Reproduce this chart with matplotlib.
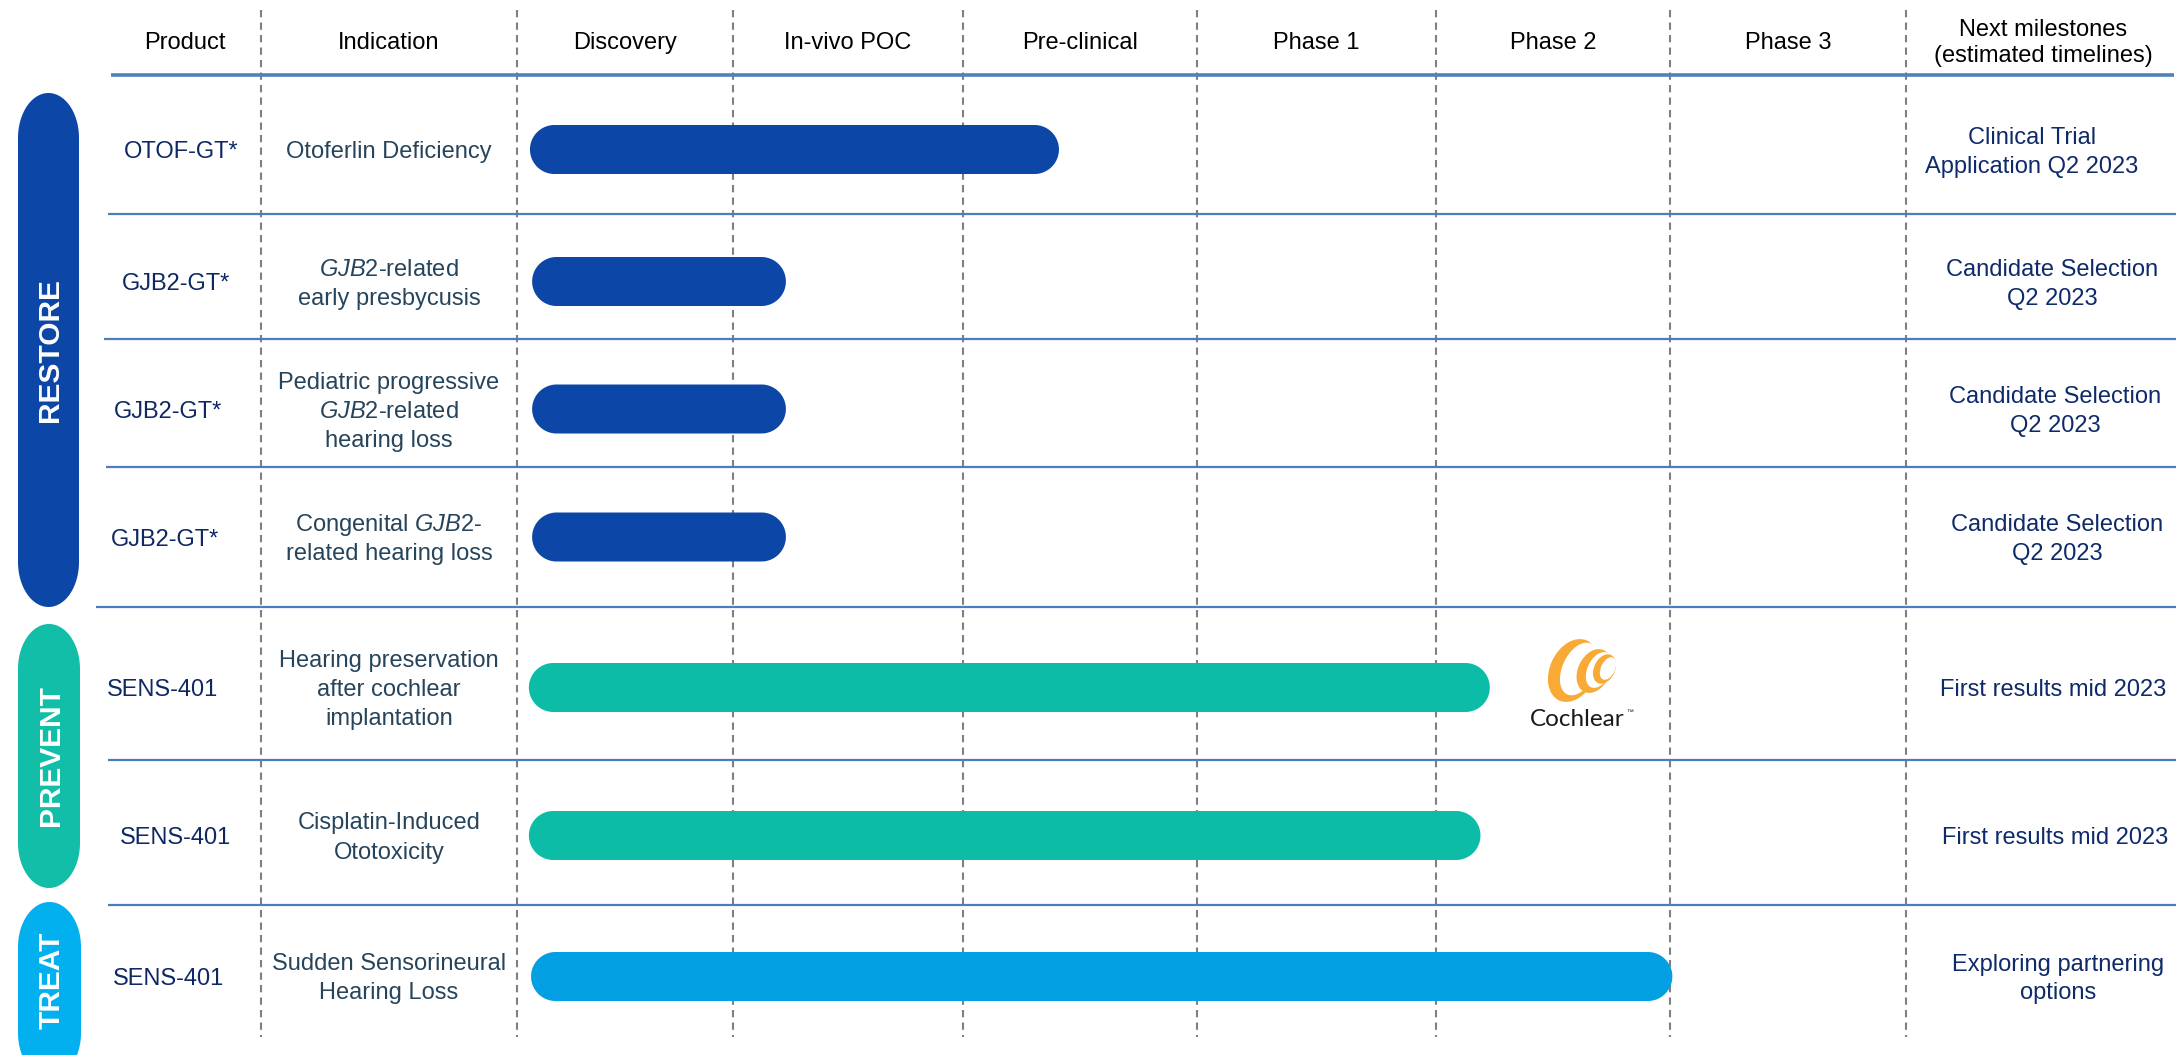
import numpy as np
import matplotlib
matplotlib.use("Agg")
import matplotlib.pyplot as plt
from matplotlib.patches import Polygon, Ellipse

plt.rcParams['font.family'] = ['Liberation Sans', 'DejaVu Sans']
plt.rcParams['mathtext.fontset'] = 'custom'
plt.rcParams['mathtext.rm'] = 'Liberation Sans'
plt.rcParams['mathtext.it'] = 'Liberation Sans:italic'
plt.rcParams['mathtext.bf'] = 'Liberation Sans:bold'

# ---------------- data ----------------
header_labels = ["Product", "Indication", "Discovery", "In-vivo POC", "Pre-clinical",
                 "Phase 1", "Phase 2", "Phase 3", "Next milestones\n(estimated timelines)"]
stages = ["Discovery", "In-vivo POC", "Pre-clinical", "Phase 1", "Phase 2", "Phase 3"]
products = ["OTOF-GT*", "GJB2-GT*", "GJB2-GT*", "GJB2-GT*", "SENS-401", "SENS-401", "SENS-401"]
indications = [
    ["Otoferlin Deficiency"],
    [r"$\mathit{GJB2}$-related", "early presbycusis"],
    ["Pediatric progressive", r"$\mathit{GJB2}$-related", "hearing loss"],
    [r"Congenital $\mathit{GJB2}$-", "related hearing loss"],
    ["Hearing preservation", "after cochlear", "implantation"],
    ["Cisplatin-Induced", "Ototoxicity"],
    ["Sudden Sensorineural", "Hearing Loss"],
]
# progress in stage units (0 = start of Discovery, 1 = start of In-vivo POC, ...)
progress_start = [0.06, 0.07, 0.07, 0.07, 0.055, 0.055, 0.065]
progress_end = [2.41, 1.23, 1.23, 1.23, 4.23, 4.19, 5.01]
row_group = ["RESTORE", "RESTORE", "RESTORE", "RESTORE", "PREVENT", "PREVENT", "TREAT"]
milestones = [
    ["Clinical Trial", "Application Q2 2023"],
    ["Candidate Selection", "Q2 2023"],
    ["Candidate Selection", "Q2 2023"],
    ["Candidate Selection", "Q2 2023"],
    ["First results mid 2023"],
    ["First results mid 2023"],
    ["Exploring partnering", "options"],
]
groups = ["RESTORE", "PREVENT", "TREAT"]
partner_name = "Cochlear"
partner_row = 4

# ---------------- style / layout ----------------
W, H = 2178, 1055
group_bar_color = {"RESTORE": "#0C47A8", "PREVENT": "#0CBCA6", "TREAT": "#02A0E2"}
group_pill_color = {"RESTORE": "#0C47A8", "PREVENT": "#12BEA7", "TREAT": "#03B0EF"}
group_pill_box = {"RESTORE": (18, 79, 93, 607), "PREVENT": (18, 80, 624, 888),
                  "TREAT": (18, 81, 902, 1078)}
group_text_y = {"RESTORE": 350, "PREVENT": 755, "TREAT": 980}

col_edges = [261, 517, 733, 963, 1197, 1436, 1670, 1906]
stage_edges = col_edges[1:]
header_x = [185, 389] + [(stage_edges[i] + stage_edges[i + 1]) / 2 for i in range(6)] + [2043]
header_y = 43
row_y = [149.5, 281.5, 409, 537, 687.5, 835.5, 976.5]
row_lines_y = [214, 339, 467, 607, 760, 905]
row_lines_x0 = [108, 104, 106, 96, 108, 108]
product_x = [181, 176, 168, 165, 163, 176, 169]
indication_x = 389
milestone_x = [2032, 2052, 2055, 2057, 2053, 2055, 2058]
bar_h = 49
line_gap = 29
FS = 17
base_off = 0.36 * FS * 100 / 72  # baseline offset from visual center (px)

col_product = "#0E2864"
col_indic = "#26445B"
col_mile = "#0E2A6A"
col_hline = "#4A7DBE"
col_dash = "#808080"


def rounded_poly(x0, x1, y0, y1, rx, ry, n=40):
    pts = []
    for (cx, cy, a0, a1) in [(x1 - rx, y0 + ry, -np.pi / 2, 0),
                             (x1 - rx, y1 - ry, 0, np.pi / 2),
                             (x0 + rx, y1 - ry, np.pi / 2, np.pi),
                             (x0 + rx, y0 + ry, np.pi, 1.5 * np.pi)]:
        t = np.linspace(a0, a1, n)
        pts.append(np.column_stack([cx + rx * np.cos(t), cy + ry * np.sin(t)]))
    return np.vstack(pts)


fig = plt.figure(figsize=(W / 100, H / 100), dpi=100)
ax = fig.add_axes([0, 0, 1, 1])
ax.set_xlim(0, W)
ax.set_ylim(H, 0)
ax.axis('off')

# dashed column separators
for x in col_edges:
    ax.plot([x, x], [10, 1037], color=col_dash, lw=1.5, linestyle=(0, (3.5, 2.5)), zorder=1)

# header line and row separators
ax.plot([111, 2174], [75, 75], color="#4F7FBF", lw=2.6, zorder=2, solid_capstyle='butt')
for y, x0 in zip(row_lines_y, row_lines_x0):
    ax.plot([x0, 2176], [y, y], color=col_hline, lw=1.6, zorder=2, solid_capstyle='butt')

# header texts
for x, lab in zip(header_x, header_labels):
    ax.text(x, header_y, lab, ha='center', va='center', fontsize=FS, color='black',
            linespacing=1.22, zorder=3)

# group pills
for g in groups:
    x0, x1, y0, y1 = group_pill_box[g]
    rx = (x1 - x0) / 2
    ax.add_patch(Polygon(rounded_poly(x0, x1, y0, y1, rx, 45), closed=True,
                         facecolor=group_pill_color[g], edgecolor='none', zorder=3))
    ax.text((x0 + x1) / 2 + 2, group_text_y[g], g, rotation=90, ha='center', va='center',
            color='white', fontsize=21.5, fontweight='bold', zorder=4)

# bars
stage_idx = np.arange(len(stage_edges))
for i in range(len(products)):
    xs = np.interp(progress_start[i], stage_idx, stage_edges)
    xe = np.interp(progress_end[i], stage_idx, stage_edges)
    y = row_y[i]
    ax.add_patch(Polygon(rounded_poly(xs, xe, y - bar_h / 2, y + bar_h / 2, bar_h / 2, bar_h / 2),
                         closed=True, facecolor=group_bar_color[row_group[i]],
                         edgecolor='none', zorder=5))

# row texts
for i in range(len(products)):
    y = row_y[i]
    ax.text(product_x[i], y + base_off, products[i], ha='center', va='baseline',
            fontsize=FS, color=col_product, zorder=4)
    lines = indications[i]
    n = len(lines)
    for k, ln in enumerate(lines):
        yy = y + (k - (n - 1) / 2) * line_gap
        ax.text(indication_x, yy + base_off, ln, ha='center', va='baseline',
                fontsize=FS, color=col_indic, zorder=4)
    lines = milestones[i]
    n = len(lines)
    for k, ln in enumerate(lines):
        yy = y + (k - (n - 1) / 2) * line_gap
        ax.text(milestone_x[i], yy + base_off, ln, ha='center', va='baseline',
                fontsize=FS, color=col_mile, zorder=4)

# partner logo (Cochlear)
orange = "#F9AA36"
logo = [((1573, 670.5), 46, 66, (1579, 669), 33, 56),
        ((1594, 671), 32, 46, (1599, 670), 23, 38),
        ((1604.5, 669), 21, 31, (1608, 668.5), 14, 24)]
for (c, w, h, cw, ww, hh) in logo:
    ax.add_patch(Ellipse(c, w, h, angle=25, facecolor=orange, edgecolor='none', zorder=6))
    ax.add_patch(Ellipse(cw, ww, hh, angle=25, facecolor='white', edgecolor='none', zorder=6))
ax.text(1577, row_y[partner_row] + 30 + 9, partner_name, ha='center', va='baseline',
        fontsize=17.5, color='#1A1A1A', family=['Lato', 'DejaVu Sans'], zorder=6)
ax.text(1626, row_y[partner_row] + 27, "™", ha='left', va='baseline', fontsize=5,
        color='#1A1A1A', zorder=6)

fig.savefig("out.png", dpi=100, facecolor='white')
